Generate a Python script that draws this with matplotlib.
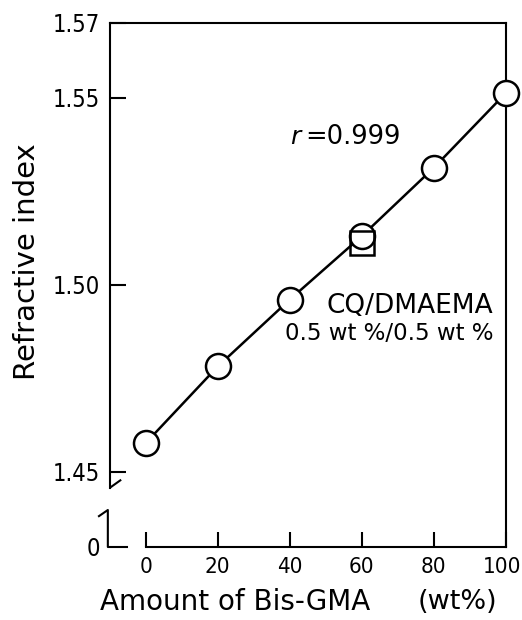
"""
Refractive index vs. Bis-GMA content (broken y axis)
"""
import matplotlib
matplotlib.use('Agg')
import matplotlib.pyplot as plt
import matplotlib.transforms as mtransforms

# data
bisgma_wt = [0, 20, 40, 60, 80, 100]
refr_index = [1.4576, 1.4781, 1.4960, 1.5130, 1.5313, 1.5513]
cq_wt = [60]
cq_index = [1.5111]

y_ticks = [1.45, 1.50, 1.55, 1.57]
y_ticklabels = ['1.45', '1.50', '1.55', '1.57']
x_ticks = [0, 20, 40, 60, 80, 100]

X_MIN, X_MAX = -9.9, 100
Y_MIN, Y_MAX = 1.4298, 1.57

fig = plt.figure(figsize=(5.22, 6.2), dpi=100)
W, H = 522, 620
ax = fig.add_axes([110 / W, (H - 547) / H, (506 - 110) / W, (547 - 23) / H])

ax.plot(bisgma_wt, refr_index, color='black', lw=1.8, zorder=2)
ax.plot(bisgma_wt, refr_index, 'o', ms=18, mfc='white', mec='black', mew=1.8,
        clip_on=False, zorder=3)
ax.plot(cq_wt, cq_index, 's', ms=17.5, mfc='none', mec='black', mew=1.8,
        clip_on=False, zorder=4)

ax.set_xlim(X_MIN, X_MAX)
ax.set_ylim(Y_MIN, Y_MAX)

for s in ax.spines.values():
    s.set_linewidth(1.5)
ax.spines['bottom'].set_bounds(0, 100)
ax.spines['left'].set_bounds(1.4456, Y_MAX)

ax.set_yticks([Y_MIN] + y_ticks)
ax.set_yticklabels(['0'] + y_ticklabels)
ax.set_xticks(x_ticks)
ax.tick_params(axis='y', direction='in', length=11.5, width=1.5, pad=7,
               labelsize=17)
ax.tick_params(axis='x', direction='in', length=11, width=1.5, pad=7,
               labelsize=16)
for lab in ax.get_xticklabels() + ax.get_yticklabels():
    lab.set_fontstretch('condensed')

# keep "100" just inside the right edge
last = ax.get_xticklabels()[-1]
last.set_transform(last.get_transform() +
                   mtransforms.ScaledTranslation(-4 / 100, 0, fig.dpi_scale_trans))

# the "0" tick sits on the lower stub, not the main spine
ax.yaxis.get_major_ticks()[0].tick1line.set_visible(False)

# axis break marks
brk = dict(color='black', lw=1.5, clip_on=False, solid_capstyle='butt')
ax.plot([-10.0, -6.8], [1.4456, 1.4478], **brk)
ax.plot([-13.2, -10.5, -10.5, -4.9], [1.4379, 1.4397, Y_MIN, Y_MIN], **brk)

# axis titles
fig.text(27 / W, 1 - 262 / H, 'Refractive index', fontsize=21,
         rotation=90, ha='center', va='center')
xt = mtransforms.blended_transform_factory(ax.transData, fig.transFigure)
ax.text(-12.7, 1 - 602 / H, 'Amount of Bis-GMA', fontsize=20,
        ha='left', va='center', transform=xt)
ax.text(97.5, 1 - 602 / H, '(wt%)', fontsize=19.5,
        ha='right', va='center', transform=xt)

# annotations
ax.text(43.7, 1.5394, r'$r$', fontsize=18, ha='right', va='center')
ax.text(44.3, 1.5394, '=0.999', fontsize=18.5, ha='left', va='center')
ax.text(96.5, 1.4942, 'CQ/DMAEMA', fontsize=19, ha='right', va='center')
ax.text(96.5, 1.4869, '0.5 wt %/0.5 wt %', fontsize=16.5, ha='right', va='center')

fig.savefig('out.png', dpi=100)
